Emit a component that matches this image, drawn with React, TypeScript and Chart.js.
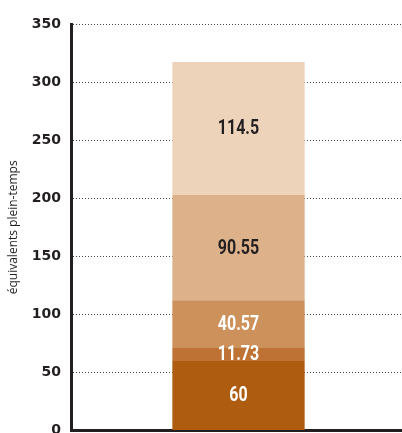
import React, { useEffect, useRef } from "react";
import { Chart, registerables } from "chart.js";

Chart.register(...registerables);

const categories = [""];
const segmentNames = ["s1", "s2", "s3", "s4", "s5"];
const segmentValues = [60, 11.73, 40.57, 90.55, 114.5];
const segmentColors = ["#ad5c10", "#be7335", "#cd915c", "#ddb28a", "#edd3ba"];
const labelColors = ["#ffffff", "#ffffff", "#ffffff", "#231f20", "#231f20"];
const yMin = 0;
const yMax = 350;
const yStep = 50;
const yTitle = "équivalents plein-temps";

const INK = "#231f20";

const labelPlugin = {
  id: "segLabels",
  afterDatasetsDraw(chart: any) {
    const ctx = chart.ctx;
    chart.data.datasets.forEach((ds: any, i: number) => {
      const meta = chart.getDatasetMeta(i);
      meta.data.forEach((el: any, j: number) => {
        const p = el.getProps(["x", "y", "base"], true);
        ctx.save();
        ctx.translate(p.x, (p.y + p.base) / 2 + 1);
        ctx.scale(0.8, 1);
        ctx.font = 'bold 20px "Roboto", sans-serif';
        ctx.textAlign = "center";
        ctx.textBaseline = "middle";
        ctx.fillStyle = labelColors[i];
        ctx.fillText(String(ds.data[j]), 0, 0);
        ctx.restore();
      });
    });
  },
};

const titlePlugin = {
  id: "yTitle",
  afterDraw(chart: any) {
    const ctx = chart.ctx;
    const a = chart.chartArea;
    ctx.save();
    ctx.translate(14, (a.top + a.bottom) / 2);
    ctx.rotate(-Math.PI / 2);
    ctx.font = '12px "Open Sans", sans-serif';
    ctx.fillStyle = INK;
    ctx.textAlign = "center";
    ctx.textBaseline = "middle";
    ctx.fillText(yTitle, 0, 0);
    ctx.restore();
  },
};

export default function App() {
  const ref = useRef<HTMLCanvasElement>(null);
  useEffect(() => {
    if (!ref.current) return;
    const chart = new Chart(ref.current, {
      type: "bar",
      data: {
        labels: categories,
        datasets: segmentValues.map((v, i) => ({
          label: segmentNames[i],
          data: [v],
          backgroundColor: segmentColors[i],
          borderWidth: 0,
          barPercentage: 0.395,
          categoryPercentage: 1,
        })),
      },
      options: {
        responsive: false,
        animation: false,
        devicePixelRatio: 1,
        layout: { padding: { top: 24, bottom: 12, left: 0, right: 0 } },
        plugins: { legend: { display: false }, tooltip: { enabled: false } },
        scales: {
          x: {
            stacked: true,
            ticks: { display: false },
            grid: { drawOnChartArea: false, drawTicks: false },
            border: { display: true, color: INK, width: 3 },
            afterFit: (s: any) => {
              s.height = 0;
            },
          },
          y: {
            stacked: true,
            min: yMin,
            max: yMax,
            ticks: {
              stepSize: yStep,
              padding: 10,
              color: INK,
              font: { family: "DejaVu Sans", weight: "bold", size: 14 },
            },
            grid: {
              drawTicks: false,
              color: "#444",
              lineWidth: 1,
            },
            border: { display: true, color: INK, width: 3, dash: [1, 2] },
            afterFit: (s: any) => {
              s.width = 71;
            },
          },
        },
      },
      plugins: [labelPlugin, titlePlugin],
    });
    return () => chart.destroy();
  }, []);
  return (
    <div style={{ position: "fixed", left: 0, top: 0, width: 402, height: 433, overflow: "hidden", background: "#fff" }}>
      <canvas ref={ref} width={406} height={449} style={{ display: "block" }} />
    </div>
  );
}
